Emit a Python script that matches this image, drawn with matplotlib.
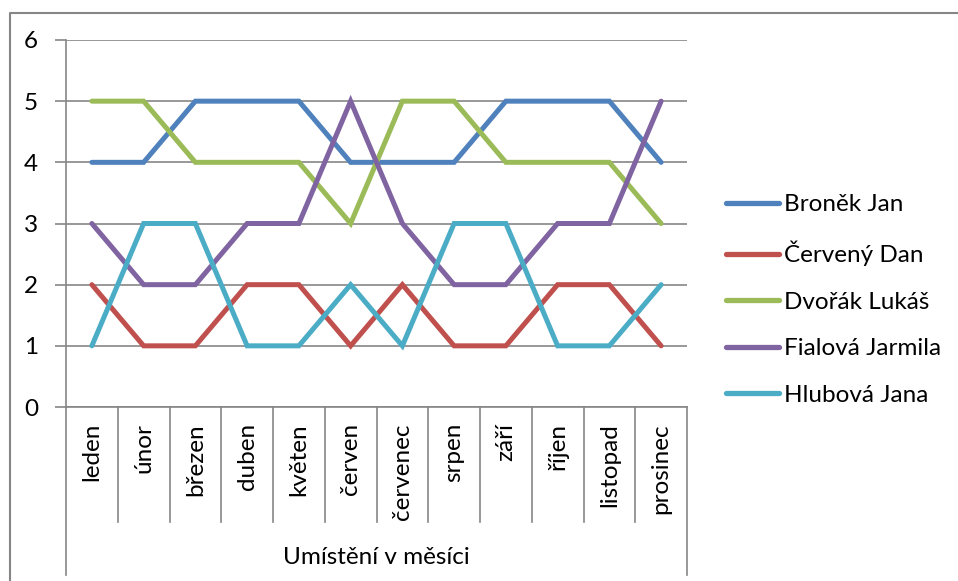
import matplotlib.pyplot as plt
from matplotlib.lines import Line2D
from matplotlib.transforms import blended_transform_factory

plt.rcParams['font.family'] = ['Lato', 'DejaVu Sans']

# --- Data ---
months = ["leden", "únor", "březen", "duben", "květen", "červen",
          "červenec", "srpen", "září", "říjen", "listopad", "prosinec"]
bronek = [4, 4, 5, 5, 5, 4, 4, 4, 5, 5, 5, 4]
cerveny = [2, 1, 1, 2, 2, 1, 2, 1, 1, 2, 2, 1]
dvorak = [5, 5, 4, 4, 4, 3, 5, 5, 4, 4, 4, 3]
fialova = [3, 2, 2, 3, 3, 5, 3, 2, 2, 3, 3, 5]
hlubova = [1, 3, 3, 1, 1, 2, 1, 3, 3, 1, 1, 2]
names = ["Broněk Jan", "Červený Dan", "Dvořák Lukáš", "Fialová Jarmila", "Hlubová Jana"]
colors = ["#4F81BD", "#C0504D", "#9BBB59", "#8064A2", "#4BACC6"]
axis_title = "Umístění v měsíci"
y_ticks = [0, 1, 2, 3, 4, 5, 6]

W, H = 958, 581
FS = 17.5
fig = plt.figure(figsize=(W / 100, H / 100), dpi=100)

# plocha grafu v pixelech: x 66..687, y 40..407
x0, x1, ytop, ybot = 66, 687, 40, 407
ax = fig.add_axes([x0 / W, 1 - ybot / H, (x1 - x0) / W, (ybot - ytop) / H])
ax.set_xlim(0, len(months))
ax.set_ylim(0, 6)

grid_col = "#868686"
for s in ["top", "right", "bottom"]:
    ax.spines[s].set_visible(False)
ax.spines["left"].set_color(grid_col)
ax.spines["left"].set_linewidth(1.2)
ax.set_yticks(y_ticks)
ax.yaxis.grid(True, color=grid_col, linewidth=1.2)
ax.set_axisbelow(True)
ax.tick_params(axis="y", length=8, width=1.2, color=grid_col, labelsize=FS, pad=12)
ax.set_xticks([])

xs = [i + 0.5 for i in range(len(months))]
series = [bronek, cerveny, dvorak, fialova, hlubova]
for vals, name, c in zip(series, names, colors):
    ax.plot(xs, vals, color=c, linewidth=3.6, solid_capstyle="round",
            solid_joinstyle="miter", label=name, clip_on=False)

# kategoriální osa s oddělovači
axis_line = Line2D([0, 1], [0, 0], transform=ax.transAxes, color=grid_col,
                   linewidth=1.2, clip_on=False)
ax.add_line(axis_line)
tr = blended_transform_factory(ax.transData, fig.transFigure)
for i in range(len(months) + 1):
    low = 575 if i in (0, len(months)) else 522
    ax.add_line(Line2D([i, i], [1 - ybot / H, 1 - low / H], transform=tr,
                       color=grid_col, linewidth=1.2, clip_on=False))
for x, m in zip(xs, months):
    fig.text(x, 1 - 423 / H, m, transform=tr, rotation=90, ha="center", va="top",
             fontsize=FS)
fig.text((x0 + x1) / 2 / W, 1 - 557 / H, axis_title, ha="center", va="center",
         fontsize=FS)

# rámeček celého grafu
fig.add_artist(Line2D([10 / W, 10 / W, 1.0], [0, 1 - 13 / H, 1 - 13 / H],
                      transform=fig.transFigure, color=grid_col, linewidth=1.5))

handles = [Line2D([], [], color=c, linewidth=3.8, solid_capstyle="round") for c in colors]
fig.legend(handles, names, loc="center left", bbox_to_anchor=(726 / W, 1 - 300 / H),
           frameon=False, fontsize=FS, handlelength=2.2, handletextpad=0.2,
           labelspacing=1.05, borderpad=0, borderaxespad=0)

fig.savefig("out.png", dpi=100)
